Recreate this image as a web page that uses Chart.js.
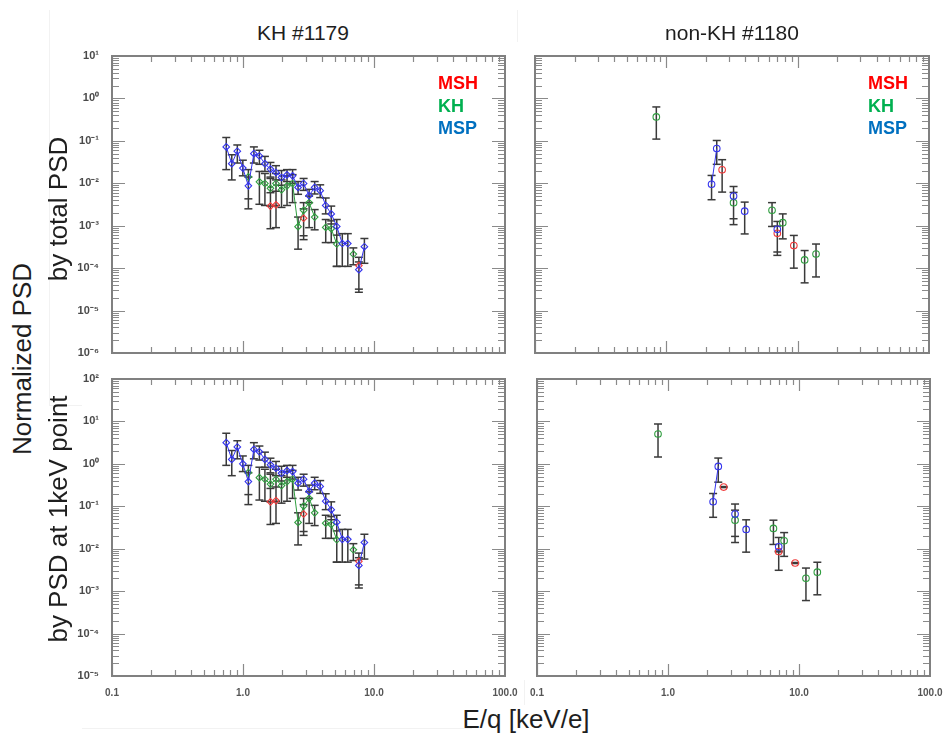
<!DOCTYPE html>
<html lang="en">
<head>
<meta charset="UTF-8">
<meta name="viewport" content="width=device-width, initial-scale=1.0">
<title>Normalized PSD - KH #1179 / non-KH #1180</title>
<script src="https://cdn.jsdelivr.net/npm/chart.js"></script>
<style>
  html, body { margin: 0; padding: 0; background: #fff; }
  #page { position: relative; width: 944px; height: 735px; overflow: hidden;
          font-family: "Liberation Sans", Arial, sans-serif; color: #1e1e1e; }
  #page canvas { position: absolute; }
  .lbl { position: absolute; white-space: nowrap; line-height: 1; }
  .title { font-size: 21px; transform: translateX(-50%); }
  .axis { font-size: 26px; }
  .rot { transform: translate(-50%, -50%) rotate(-90deg); }
  .key { position: absolute; font-size: 18px; font-weight: bold; line-height: 1; white-space: nowrap; }
  .ghost { position: absolute; background: #f2f2f2; }
</style>
</head>
<body>
<div id="page">
  <div class="ghost" style="left:49px; top:10px; width:1px; height:395px;"></div>
  <div class="ghost" style="left:49px; top:405px; width:33px; height:1px;"></div>
  <div class="ghost" style="left:82px; top:728px; width:390px; height:1px;"></div>
  <div class="ghost" style="left:517px; top:10px; width:1px; height:32px;"></div>
  <div class="ghost" style="left:524px; top:680px; width:1px; height:25px;"></div>

  <canvas id="tl"></canvas>
  <canvas id="tr"></canvas>
  <canvas id="bl"></canvas>
  <canvas id="br"></canvas>

  <div class="lbl title" style="left:303px; top:22px;">KH #1179</div>
  <div class="lbl title" style="left:732px; top:22px;">non-KH #1180</div>
  <div class="lbl axis rot" style="left:22px; top:359px;">Normalized PSD</div>
  <div class="lbl axis rot" style="left:58px; top:209px;">by total PSD</div>
  <div class="lbl axis rot" style="left:58px; top:519px;">by PSD at 1keV point</div>
  <div class="lbl axis" style="left:526px; top:706px; transform: translateX(-50%);">E/q [keV/e]</div>

  <div class="key" style="left:438px; top:74px; color:#ff0000;">MSH</div>
  <div class="key" style="left:438px; top:97px; color:#00b050;">KH</div>
  <div class="key" style="left:438px; top:119px; color:#0070c0;">MSP</div>
  <div class="key" style="left:868px; top:74px; color:#ff0000;">MSH</div>
  <div class="key" style="left:868px; top:97px; color:#00b050;">KH</div>
  <div class="key" style="left:868px; top:119px; color:#0070c0;">MSP</div>
</div>

<script>
// axis ticks
const xTicks = [0.1, 1, 10, 100];
const xTickLabels = ['0.1', '1.0', '10.0', '100.0'];
const yTicksTop = [10, 1, 0.1, 0.01, 0.001, 0.0001, 0.00001, 0.000001];
const yTickLabelsTop = ['10¹', '10⁰', '10⁻¹', '10⁻²', '10⁻³', '10⁻⁴', '10⁻⁵', '10⁻⁶'];
const yTicksBottom = [100, 10, 1, 0.1, 0.01, 0.001, 0.0001, 0.00001];
const yTickLabelsBottom = ['10²', '10¹', '10⁰', '10⁻¹', '10⁻²', '10⁻³', '10⁻⁴', '10⁻⁵'];

// rows are [E/q keV, PSD, error low, error high]; null = break in the line

// KH #1179, normalized by total PSD
const khMSP = [
  [0.745, 0.072, 0.021, 0.12],
  [0.821, 0.029, 0.012, 0.047],
  [0.905, 0.057, 0.030, 0.080],
  [0.997, 0.0228, 0.015, 0.035],
  [1.099, 0.0087, 0.0043, 0.014],
  [1.211, 0.050, 0.030, 0.072],
  [1.334, 0.044, 0.028, 0.060],
  [1.470, 0.029, 0.019, 0.043],
  [1.620, 0.0216, 0.014, 0.031],
  [1.786, 0.018, 0.012, 0.026],
  [1.968, 0.0137, 0.009, 0.020],
  [2.168, 0.0158, 0.011, 0.021],
  [2.390, 0.015, 0.010, 0.021],
  [2.633, 0.008, 0.0055, 0.011],
  [2.902, 0.0099, 0.0068, 0.013],
  [3.198, 0.0051, 0.0035, 0.0072],
  [3.524, 0.008, 0.0056, 0.011],
  [3.884, 0.0067, 0.0046, 0.0092],
  [4.280, 0.0030, 0.0019, 0.0045],
  [4.716, 0.0019, 0.0011, 0.0029],
  [5.197, 0.00096, 0.00011, 0.0014],
  [5.728, 0.00038, 0.00011, 0.00065],
  [6.312, 0.00038, 0.00011, 0.00065],
  null,
  [7.665, 0.000092, 0.000027, 0.00014],
  [8.447, 0.00032, 0.00013, 0.00050]
];
const khKH = [
  [1.099, 0.0142, 0.0025, 0.021],
  null,
  [1.334, 0.0108, 0.0032, 0.019],
  [1.470, 0.0099, 0.0030, 0.017],
  [1.620, 0.0076, 0.0029, 0.013],
  [1.786, 0.0099, 0.0030, 0.017],
  [1.968, 0.0070, 0.0027, 0.012],
  [2.168, 0.0087, 0.0030, 0.015],
  [2.390, 0.0099, 0.0035, 0.016],
  [2.633, 0.00095, 0.00028, 0.0016],
  [2.902, 0.0023, 0.00047, 0.0035],
  [3.198, 0.0035, 0.0009, 0.0050],
  [3.524, 0.0016, 0.0008, 0.0024],
  null,
  [4.280, 0.00091, 0.0004, 0.0014],
  [4.716, 0.00085, 0.0004, 0.0013],
  [5.197, 0.00037, 0.00011, 0.0006],
  null,
  [6.955, 0.000215, 0.00012, 0.0003]
];
const khMSH = [
  [1.620, 0.0029, 0.00085, 0.006],
  [1.786, 0.0031, 0.0009, 0.0065],
  null,
  [2.902, 0.0015, 0.00058, 0.0025],
  null,
  [7.665, 0.000115, 0.000032, 0.00018]
];
// PSD of the 1 keV channel (MSP at 0.997 keV), used for the lower-left panel
const khPsdAt1keV = 0.0228;

// non-KH #1180, normalized by total PSD
const nonMSP = [
  [2.21, 0.0095, 0.0041, 0.0153],
  [2.42, 0.066, 0.028, 0.102],
  null,
  [3.25, 0.0050, 0.00146, 0.0084],
  null,
  [3.95, 0.0022, 0.00064, 0.0036],
  null,
  [7.0, 0.00082, 0.00024, 0.00126]
];
const nonKH = [
  [0.839, 0.367, 0.11, 0.63], null,
  [3.25, 0.0035, 0.00106, 0.0061], null,
  [6.38, 0.0023, 0.00096, 0.0035], null,
  [7.7, 0.00118, 0.00049, 0.0019], null,
  [11.3, 0.000156, 0.000045, 0.00026], null,
  [13.8, 0.000215, 0.000062, 0.00037]
];
const nonMSH = [
  [2.66, 0.0208, 0.0062, 0.036], null,
  [7.0, 0.00066, 0.0002, 0.00098], null,
  [9.35, 0.00034, 0.0001, 0.00059]
];

// non-KH #1180, normalized by PSD at 1 keV point
const nonMSP1k = [
  [2.21, 0.128, 0.055, 0.20],
  [2.42, 0.87, 0.37, 1.37],
  null,
  [3.25, 0.0655, 0.0195, 0.113],
  null,
  [3.95, 0.0285, 0.0083, 0.048],
  null,
  [7.0, 0.0111, 0.0031, 0.0184]
];
const nonKH1k = [
  [0.839, 5.05, 1.45, 8.7], null,
  [3.25, 0.047, 0.014, 0.081], null,
  [6.38, 0.030, 0.0126, 0.047], null,
  [7.7, 0.0154, 0.0066, 0.024], null,
  [11.3, 0.0020, 0.0006, 0.0035], null,
  [13.8, 0.0028, 0.00082, 0.0048]
];
const nonMSH1k = [
  [2.66, 0.284, 0.276, 0.292], null,
  [7.0, 0.0086, 0.0084, 0.0088], null,
  [9.35, 0.0046, 0.00447, 0.00473]
];

const BLUE = '#3434ee';
const GREEN = '#2f9e3f';
const RED = '#f03a3a';
const BAR = '#3a3a3a';

Chart.defaults.font.family = '"Liberation Sans", Arial, sans-serif';

// gray frame with inward IDL-style log ticks on all four sides
const frameTicks = {
  id: 'frameTicks',
  beforeDatasetsDraw(chart) {
    const { ctx, chartArea: a, scales } = chart;
    const xs = scales.x, ys = scales.y;
    ctx.save();
    ctx.strokeStyle = '#8a8a8a';
    ctx.lineWidth = 1.2;
    ctx.beginPath();
    for (let e = Math.round(Math.log10(xs.min)); e < Math.round(Math.log10(xs.max)); e++) {
      for (let m = 1; m < 10; m++) {
        const px = Math.round(xs.getPixelForValue(m * Math.pow(10, e))) + 0.5;
        const len = m === 1 ? 12 : 6;
        ctx.moveTo(px, a.bottom); ctx.lineTo(px, a.bottom - len);
        ctx.moveTo(px, a.top); ctx.lineTo(px, a.top + len);
      }
    }
    for (let e = Math.round(Math.log10(ys.min)); e < Math.round(Math.log10(ys.max)); e++) {
      for (let m = 1; m < 10; m++) {
        const py = Math.round(ys.getPixelForValue(m * Math.pow(10, e))) + 0.5;
        const len = m === 1 ? 13 : 7;
        ctx.moveTo(a.left, py); ctx.lineTo(a.left + len, py);
        ctx.moveTo(a.right, py); ctx.lineTo(a.right - len, py);
      }
    }
    ctx.stroke();
    ctx.lineWidth = 2;
    ctx.strokeStyle = '#808080';
    ctx.strokeRect(a.left, a.top, a.right - a.left, a.bottom - a.top);
    ctx.restore();
  }
};

function seriesSet(rows, color, shape, norm, order) {
  return {
    data: rows.map(r => r ? { x: r[0], y: r[1] / norm } : { x: 1, y: null }),
    showLine: true,
    spanGaps: false,
    borderColor: color,
    borderWidth: 1,
    pointStyle: shape,
    pointRadius: 3.3,
    pointBorderWidth: 1.1,
    pointBorderColor: color,
    pointBackgroundColor: 'rgba(0,0,0,0)',
    order: order
  };
}

function errorSet(groups, norm) {
  const pts = [];
  groups.forEach(rows => rows.forEach(r => {
    if (r) pts.push({ x: r[0], y: r[2] / norm }, { x: r[0], y: r[3] / norm }, { x: r[0], y: null });
  }));
  return {
    data: pts,
    showLine: true,
    spanGaps: false,
    borderColor: BAR,
    borderWidth: 1.5,
    pointStyle: 'line',
    pointRadius: 4,
    pointBorderWidth: 1.5,
    pointBorderColor: BAR,
    order: 10
  };
}

function makePanel(id, area, m, cfg) {
  const cv = document.getElementById(id);
  cv.width = m.l + area.w + m.r;
  cv.height = m.t + area.h + m.b;
  cv.style.left = (area.x - m.l) + 'px';
  cv.style.top = (area.y - m.t) + 'px';
  new Chart(cv, {
    type: 'scatter',
    data: { datasets: cfg.datasets },
    options: {
      responsive: false,
      animation: false,
      events: [],
      layout: { padding: { left: 0, top: m.t, right: m.r, bottom: 0 } },
      plugins: { legend: { display: false }, tooltip: { enabled: false } },
      scales: {
        x: {
          type: 'logarithmic', min: 0.1, max: 100, position: 'bottom',
          grid: { display: false }, border: { display: false },
          ticks: {
            display: cfg.showX, autoSkip: false, maxRotation: 0, padding: 3,
            color: '#555', font: { size: 10, weight: 'bold' },
            callback: (v, i) => xTickLabels[i]
          },
          afterBuildTicks: s => { s.ticks = xTicks.map(v => ({ value: v })); },
          afterFit: s => { s.height = m.b; s.paddingLeft = 0; s.paddingRight = 0; }
        },
        y: {
          type: 'logarithmic', min: cfg.yTicks[cfg.yTicks.length - 1], max: cfg.yTicks[0], position: 'left',
          grid: { display: false }, border: { display: false },
          ticks: {
            display: cfg.showY, autoSkip: false, padding: 5, labelOffset: 0,
            color: '#4a4a4a', font: { size: 11, weight: 'bold' },
            callback: (v, i) => cfg.yLabels[i]
          },
          afterBuildTicks: s => { s.ticks = cfg.yTicks.map(v => ({ value: v })); },
          afterFit: s => { s.width = m.l; s.paddingTop = 0; s.paddingBottom = 0; }
        }
      }
    },
    plugins: [frameTicks]
  });
}

makePanel('tl', { x: 112, y: 56, w: 393, h: 297 }, { l: 60, t: 12, r: 30, b: 12 }, {
  showX: false, showY: true, yTicks: yTicksTop, yLabels: yTickLabelsTop,
  datasets: [
    errorSet([khMSP, khKH, khMSH], 1),
    seriesSet(khKH, GREEN, 'rectRot', 1, 2),
    seriesSet(khMSH, RED, 'rectRot', 1, 1),
    seriesSet(khMSP, BLUE, 'rectRot', 1, 0)
  ]
});

makePanel('tr', { x: 535, y: 56, w: 394, h: 297 }, { l: 10, t: 12, r: 14, b: 12 }, {
  showX: false, showY: false, yTicks: yTicksTop, yLabels: yTickLabelsTop,
  datasets: [
    errorSet([nonMSP, nonKH, nonMSH], 1),
    seriesSet(nonKH, GREEN, 'circle', 1, 2),
    seriesSet(nonMSH, RED, 'circle', 1, 1),
    seriesSet(nonMSP, BLUE, 'circle', 1, 0)
  ]
});

makePanel('bl', { x: 112, y: 379, w: 393, h: 297 }, { l: 60, t: 10, r: 30, b: 24 }, {
  showX: true, showY: true, yTicks: yTicksBottom, yLabels: yTickLabelsBottom,
  datasets: [
    errorSet([khMSP, khKH, khMSH], khPsdAt1keV),
    seriesSet(khKH, GREEN, 'rectRot', khPsdAt1keV, 2),
    seriesSet(khMSH, RED, 'rectRot', khPsdAt1keV, 1),
    seriesSet(khMSP, BLUE, 'rectRot', khPsdAt1keV, 0)
  ]
});

makePanel('br', { x: 537, y: 379, w: 393, h: 297 }, { l: 25, t: 10, r: 13, b: 24 }, {
  showX: true, showY: false, yTicks: yTicksBottom, yLabels: yTickLabelsBottom,
  datasets: [
    errorSet([nonMSP1k, nonKH1k, nonMSH1k], 1),
    seriesSet(nonKH1k, GREEN, 'circle', 1, 2),
    seriesSet(nonMSH1k, RED, 'circle', 1, 1),
    seriesSet(nonMSP1k, BLUE, 'circle', 1, 0)
  ]
});
</script>
</body>
</html>
